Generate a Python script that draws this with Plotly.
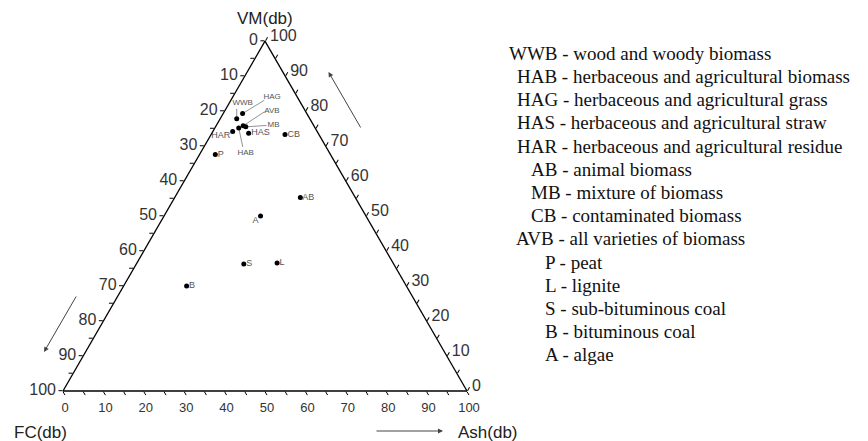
import plotly.graph_objects as go

# ---------------- data ----------------
names = ["WWB", "HAG", "HAB", "AVB", "MB", "HAS", "HAR", "CB", "P", "AB", "A", "S", "L", "B"]
vm = [77.8, 79.3, 75.2, 75.8, 75.5, 73.7, 74.2, 73.3, 67.6, 55.3, 50.0, 36.3, 36.6, 30.0]
fc = [18.1, 15.9, 18.9, 17.5, 17.0, 17.2, 20.9, 8.4, 28.5, 13.6, 26.1, 37.1, 28.7, 54.4]
ash = [4.1, 4.8, 5.9, 6.7, 7.5, 9.1, 4.9, 18.3, 3.9, 31.1, 23.9, 26.6, 34.7, 15.6]

legend_abbr = ["WWB", "HAB", "HAG", "HAS", "HAR", "AB", "MB", "CB", "AVB", "P", "L", "S", "B", "A"]
legend_desc = ["wood and woody biomass", "herbaceous and agricultural biomass",
               "herbaceous and agricultural grass", "herbaceous and agricultural straw",
               "herbaceous and agricultural residue", "animal biomass", "mixture of biomass",
               "contaminated biomass", "all varieties of biomass", "peat", "lignite",
               "sub-bituminous coal", "bituminous coal", "algae"]

tick_values = list(range(0, 101, 5))

# ---------------- styling / layout constants ----------------
W_PX, H_PX = 868, 441
TRI_LEFT, TRI_RIGHT, TRI_BOTTOM = 63.0, 467.0, 391.0
TRI_W = TRI_RIGHT - TRI_LEFT
TRI_H = TRI_W * 3 ** 0.5 / 2
TRI_TOP = TRI_BOTTOM - TRI_H

SANS = "Liberation Sans, Arial, sans-serif"
SERIF = "Liberation Serif, Times New Roman, serif"

# simple label placement for single points
simple_pos = {"CB": "middle right", "P": "middle right", "AB": "middle right",
              "S": "middle right", "L": "middle right", "B": "middle right",
              "A": "bottom left", "HAS": "middle right", "HAR": "bottom left"}
# leader-line labels: (line end dx, dy, label dx, dy) in pixels from the point
leader_pos = {"WWB": (0, -10, 6, -16), "HAG": (21.7, -13.3, 29.5, -16.3),
              "AVB": (21.3, -14, 28.8, -15), "MB": (20.7, -1.4, 27.7, -1.4),
              "HAB": (4, 19, 7, 25)}

legend_x = [507, 515, 515, 515, 515, 529, 529, 529, 514, 543, 543, 543, 543, 543]
LEG_Y0, LEG_DY = 53.3, 23.2


def px_to_ternary(dx, dy):
    da = -dy / TRI_H * 100.0
    dc = dx / TRI_W * 100.0 - da / 2.0
    db = -da - dc
    return da, db, dc


fig = go.Figure()

# leader lines and their labels
for i, n in enumerate(names):
    if n in leader_pos:
        lx, ly, tx, ty = leader_pos[n]
        da, db, dc = px_to_ternary(lx, ly)
        fig.add_trace(go.Scatterternary(
            a=[vm[i], vm[i] + da], b=[fc[i], fc[i] + db], c=[ash[i], ash[i] + dc],
            mode="lines", line=dict(color="#777", width=0.8), hoverinfo="skip"))
        da, db, dc = px_to_ternary(tx, ty)
        fig.add_trace(go.Scatterternary(
            a=[vm[i] + da], b=[fc[i] + db], c=[ash[i] + dc],
            mode="text", text=[n], textposition="middle center",
            textfont=dict(family=SANS, size=8, color="#555"), hoverinfo="skip"))

# points
fig.add_trace(go.Scatterternary(
    a=vm, b=fc, c=ash, mode="markers",
    marker=dict(color="black", size=5), text=names, hoverinfo="text"))

# simple labels
for i, n in enumerate(names):
    if n in simple_pos:
        fig.add_trace(go.Scatterternary(
            a=[vm[i]], b=[fc[i]], c=[ash[i]], mode="text", text=[" " + n + " "],
            textposition=simple_pos[n],
            textfont=dict(family=SANS, size=9, color="#555"), hoverinfo="skip"))


def axis(tickvals, ticktext, size):
    return dict(
        min=0, showgrid=False, linecolor="black", linewidth=1.3,
        ticks="outside", ticklen=4, tickwidth=1, tickcolor="black",
        tickmode="array", tickvals=tickvals, ticktext=ticktext,
        tickfont=dict(family=SANS, size=size, color="#333"),
        title=dict(text=""))


rev_text = [str(100 - v) if v % 10 == 0 else "" for v in tick_values]

fig.update_layout(
    width=W_PX, height=H_PX,
    margin=dict(l=0, r=0, t=0, b=0),
    paper_bgcolor="white", plot_bgcolor="white",
    showlegend=False,
    ternary=dict(
        sum=100, bgcolor="white",
        domain=dict(x=[TRI_LEFT / W_PX, TRI_RIGHT / W_PX],
                    y=[1 - TRI_BOTTOM / H_PX, 1 - TRI_TOP / H_PX]),
        aaxis=axis(tick_values, rev_text, 16),
        baxis=axis(tick_values, rev_text, 13),
        caxis=axis(tick_values, rev_text, 16),
    ),
)

annotations = []
# axis titles
for txt, tx, ty in [("VM(db)", 265, 18), ("FC(db)", 40, 432), ("Ash(db)", 488, 432)]:
    annotations.append(dict(x=tx / W_PX, y=1 - ty / H_PX, xref="paper", yref="paper",
                            xanchor="center", yanchor="middle",
                            text=txt, showarrow=False,
                            font=dict(family=SANS, size=17, color="#222")))
# direction arrows
for hx, hy, ax_, ay_ in [(328.5, 72, 33, 57), (44, 352, 33, -57), (443, 431, -68, 0)]:
    annotations.append(dict(x=hx / W_PX, y=1 - hy / H_PX, xref="paper", yref="paper",
                            text="", showarrow=True, ax=ax_, ay=ay_,
                            arrowhead=2, arrowsize=1, arrowwidth=1, arrowcolor="#444"))
# legend text block
for k, (ab, de) in enumerate(zip(legend_abbr, legend_desc)):
    annotations.append(dict(x=legend_x[k] / W_PX, y=1 - (LEG_Y0 + k * LEG_DY) / H_PX,
                            xref="paper", yref="paper", xanchor="left", yanchor="middle",
                            text=f"{ab} - {de}", showarrow=False,
                            font=dict(family=SERIF, size=19, color="#111")))
fig.update_layout(annotations=annotations)

fig.write_html("out.html")
